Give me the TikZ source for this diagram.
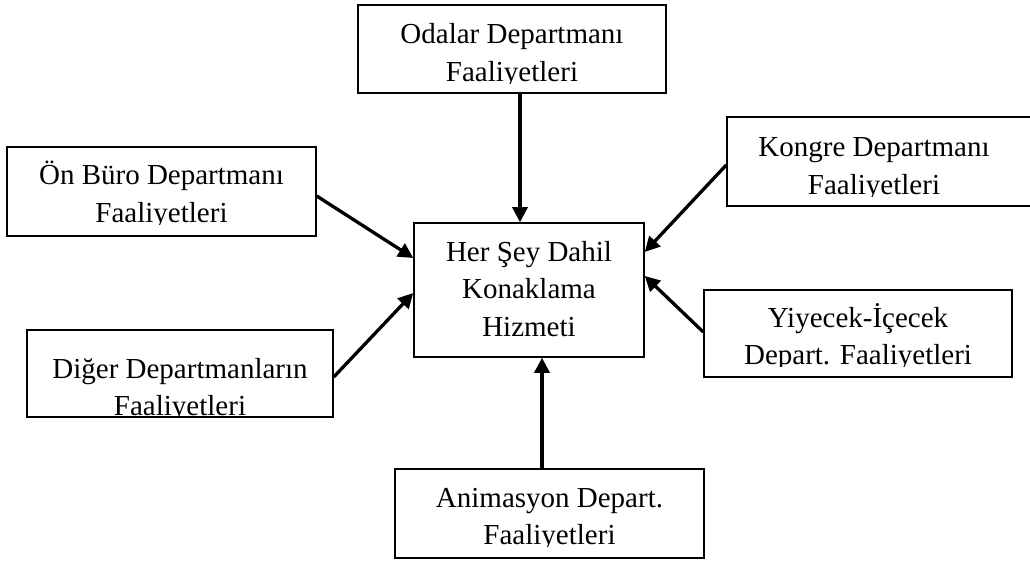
\documentclass[tikz,border=0pt]{standalone}
\usepackage{fontspec}
\setmainfont{Liberation Serif}
\usetikzlibrary{arrows.meta}

\tikzset{
  box/.style={draw, line width=1.5pt, inner sep=0pt},
  txt/.style={font=\fontsize{29}{37.5}\selectfont, align=center, inner sep=0pt},
  feed/.style={line width=3.3pt, -{Triangle[length=15pt,width=15pt]}},
}

\begin{document}
\begin{tikzpicture}[x=1pt, y=-1pt]
  \useasboundingbox (0,0) rectangle (1030,561);

  % frames of the activity boxes
  \node[box, minimum width=308pt, minimum height=88pt]  (rooms)    at (512,49)    {};
  \node[box, minimum width=309pt, minimum height=89pt]  (front)    at (161.5,191.5) {};
  \node[box, minimum width=230pt, minimum height=134pt] (core)     at (529,290)   {};
  \node[box, minimum width=306pt, minimum height=89pt]  (congress) at (880,161.5) {};
  \node[box, minimum width=306pt, minimum height=87pt]  (others)   at (180,373.5) {};
  \node[box, minimum width=308pt, minimum height=87pt]  (food)     at (858,333.5) {};
  \node[box, minimum width=309pt, minimum height=89pt]  (anim)     at (549.5,513.5) {};

  % texts, cut off at the bottom of their text frames
  \begin{scope}
    \clip (rooms.north west) rectangle (rooms.east |- 0,83.5);
    \node[txt] (roomsT) at (512,55.25) {\strut Odalar Departmanı\\\strut Faaliyetleri};
  \end{scope}
  \begin{scope}
    \clip (front.north west) rectangle (front.east |- 0,224.5);
    \node[txt] (frontT) at (161.5,196.25) {\strut Ön Büro Departmanı\\\strut Faaliyetleri};
  \end{scope}
  \node[txt] (coreT) at (529,291) {\strut Her Şey Dahil\\\strut Konaklama\\\strut Hizmeti};
  \begin{scope}
    \clip (congress.north west) rectangle (congress.east |- 0,196.5);
    \node[txt] (congressT) at (874,168.25) {\strut Kongre Departmanı\\\strut Faaliyetleri};
  \end{scope}
  \begin{scope}
    \clip (others.north west) rectangle (others.east |- 0,416.5);
    \node[txt] (othersT) at (180,389.25) {\strut Diğer Departmanların\\\strut Faaliyetleri};
  \end{scope}
  \begin{scope}
    \clip (food.north west) rectangle (food.east |- 0,366.5);
    \node[txt] (foodT) at (858,338.25) {\strut Yiyecek-İçecek\\\strut Depart. Faaliyetleri};
  \end{scope}
  \begin{scope}
    \clip (anim.north west) rectangle (anim.east |- 0,546.5);
    \node[txt] (animT) at (549.5,518.25) {\strut Animasyon Depart.\\\strut Faaliyetleri};
  \end{scope}

  % contributions flowing into the all-inclusive service
  \draw[feed] ([xshift=8pt]rooms.south)     -- ([xshift=-9pt]core.north);
  \draw[feed] ([yshift=-4.5pt]front.east)   -- ([yshift=32pt]core.west);
  \draw[feed] ([yshift=-3.5pt]others.east)  -- ([yshift=-3pt]core.west);
  \draw[feed] ([yshift=-3.5pt]congress.west) -- ([yshift=38pt]core.east);
  \draw[feed] ([yshift=1.5pt]food.west)     -- ([yshift=14pt]core.east);
  \draw[feed] ([xshift=-7.5pt]anim.north)   -- ([xshift=13pt]core.south);
\end{tikzpicture}
\end{document}
